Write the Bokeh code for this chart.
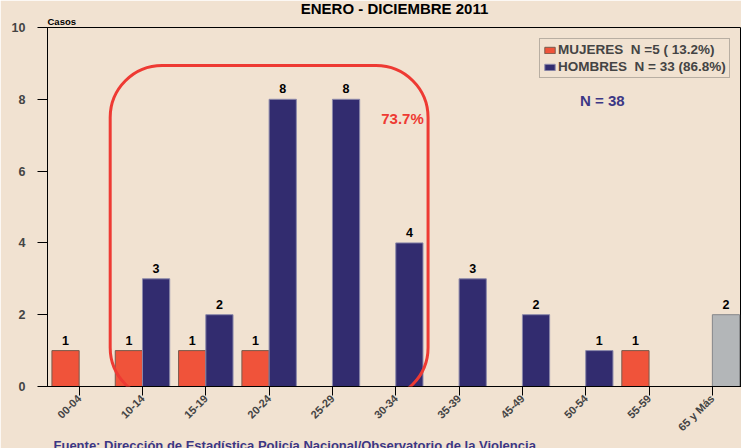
import math
from bokeh.plotting import figure
from bokeh.models import (ColumnDataSource, Label, Legend, LegendItem, BoxAnnotation,
                          FixedTicker, Range1d, Title)
from bokeh.core.properties import value
from bokeh.embed import file_html
from bokeh.resources import INLINE

# ---- data ----
categories = ["00-04", "10-14", "15-19", "20-24", "25-29", "30-34",
              "35-39", "45-49", "50-54", "55-59", "65 y Más"]
mujeres = [1, 1, 1, 1, 0, 0, 0, 0, 0, 1, 0]
hombres = [0, 3, 2, 8, 8, 4, 3, 2, 1, 0, 0]
sin_dato = [0, 0, 0, 0, 0, 0, 0, 0, 0, 0, 2]
y_ticks = [0, 2, 4, 6, 8, 10]
title_text = "ENERO - DICIEMBRE 2011"
legend_mujeres = "MUJERES  N =5 ( 13.2%)"
legend_hombres = "HOMBRES  N = 33 (86.8%)"
total_text = "N = 38"
pct_text = "73.7%"
source_text = "Fuente: Dirección de Estadística Policía Nacional/Observatorio de la Violencia"

FONT = "Liberation Sans"
BG = "#F1E2D1"
BAR_W = 0.43
OFF = BAR_W / 2

p = figure(width=741, height=448, output_backend="svg", toolbar_location=None,
           x_range=Range1d(-0.5, 10.46), y_range=Range1d(0, 10),
           min_border_left=47, min_border_top=27, min_border_bottom=62, min_border_right=0)
p.background_fill_color = BG
p.border_fill_color = BG
p.outline_line_color = "black"
p.outline_line_width = 1
p.grid.visible = False

# titles (outside the frame)
p.title.text = title_text
p.title.align = "center"
p.title.offset = 0
p.title.standoff = -7
p.title.text_font = FONT
p.title.text_font_style = "bold"
p.title.text_font_size = "15px"
p.title.text_color = "black"
casos = Title(text="Casos", align="left", standoff=1, text_font=FONT,
              text_font_style="bold", text_font_size="9.5px", text_color="black")
p.add_layout(casos, "above")
fuente = Title(text=source_text, align="left", offset=6, standoff=-9, text_font=FONT,
               text_font_style="bold", text_font_size="13px", text_color="#3C3785")
p.add_layout(fuente, "below")

# axes
p.yaxis.ticker = FixedTicker(ticks=y_ticks)
p.yaxis.minor_tick_line_color = None
p.yaxis.major_tick_out = 10
p.yaxis.major_tick_in = 0
p.yaxis.major_label_text_font = FONT
p.yaxis.major_label_text_font_style = "bold"
p.yaxis.major_label_text_font_size = "12.5px"
p.yaxis.major_label_standoff = 12
p.xaxis.ticker = FixedTicker(ticks=list(range(len(categories))))
p.xaxis.major_label_overrides = {i: c for i, c in enumerate(categories)}
p.xaxis.minor_tick_line_color = None
p.xaxis.major_tick_out = 9
p.xaxis.major_tick_in = 0
p.xaxis.major_label_orientation = math.pi / 4
p.xaxis.major_label_text_font = FONT
p.xaxis.major_label_text_font_style = "bold"
p.xaxis.major_label_text_font_size = "11px"
p.xaxis.major_label_standoff = 1
for ax in (p.xaxis, p.yaxis):
    ax.axis_line_color = "black"
    ax.major_tick_line_color = "black"


def nz(vals, off):
    xs, ys = [], []
    for i, v in enumerate(vals):
        if v:
            xs.append(i + off)
            ys.append(v)
    return ColumnDataSource(dict(x=xs, top=ys, txt=[str(v) for v in ys]))


src_m = nz(mujeres, -OFF)
src_h = nz(hombres, OFF)
src_g = nz(sin_dato, OFF)

r_m = p.vbar(x="x", top="top", width=BAR_W, source=src_m,
             fill_color="#F0533A", line_color="#7A5A4C", line_width=1)
r_h = p.vbar(x="x", top="top", width=BAR_W, source=src_h,
             fill_color="#322C6F", line_color="#8C89AA", line_width=1)
r_g = p.vbar(x="x", top="top", width=BAR_W, source=src_g,
             fill_color="#B3B6B8", line_color="#85878A", line_width=1)

for s in (src_m, src_h, src_g):
    p.text(x="x", y="top", text="txt", source=s, text_align="center",
           text_baseline="bottom", y_offset=-6, text_font=value(FONT),
           text_font_style="bold", text_font_size="12.5px", text_color="black")

# rounded highlight box
box = BoxAnnotation(left=0.49, right=5.51, top=8.94, bottom=-0.36,
                    fill_alpha=0, line_color="#EE3A33", line_alpha=1, line_width=3,
                    border_radius=52)
p.add_layout(box)

# legend
legend = Legend(items=[LegendItem(label=legend_mujeres, renderers=[r_m]),
                       LegendItem(label=legend_hombres, renderers=[r_h])],
                location=(492, 308), orientation="vertical",
                label_text_font=FONT, label_text_font_style="bold",
                label_text_font_size="13.5px", label_standoff=2,
                glyph_width=13, glyph_height=8, label_height=13,
                spacing=2, padding=3, margin=0,
                border_line_color="#7F7A74", border_line_width=1,
                background_fill_color=BG, background_fill_alpha=1)
p.add_layout(legend)

# texts inside the frame
p.add_layout(Label(x=4.77, y=7.46, text=pct_text, text_font=FONT,
                   text_font_style="bold", text_font_size="15px", text_color="#EE3A33",
                   text_baseline="middle"))
p.add_layout(Label(x=7.91, y=7.96, text=total_text, text_font=FONT,
                   text_font_style="bold", text_font_size="15px", text_color="#3C3785",
                   text_baseline="middle"))

html = file_html(p, INLINE)
open("out.html", "w").write(html)
